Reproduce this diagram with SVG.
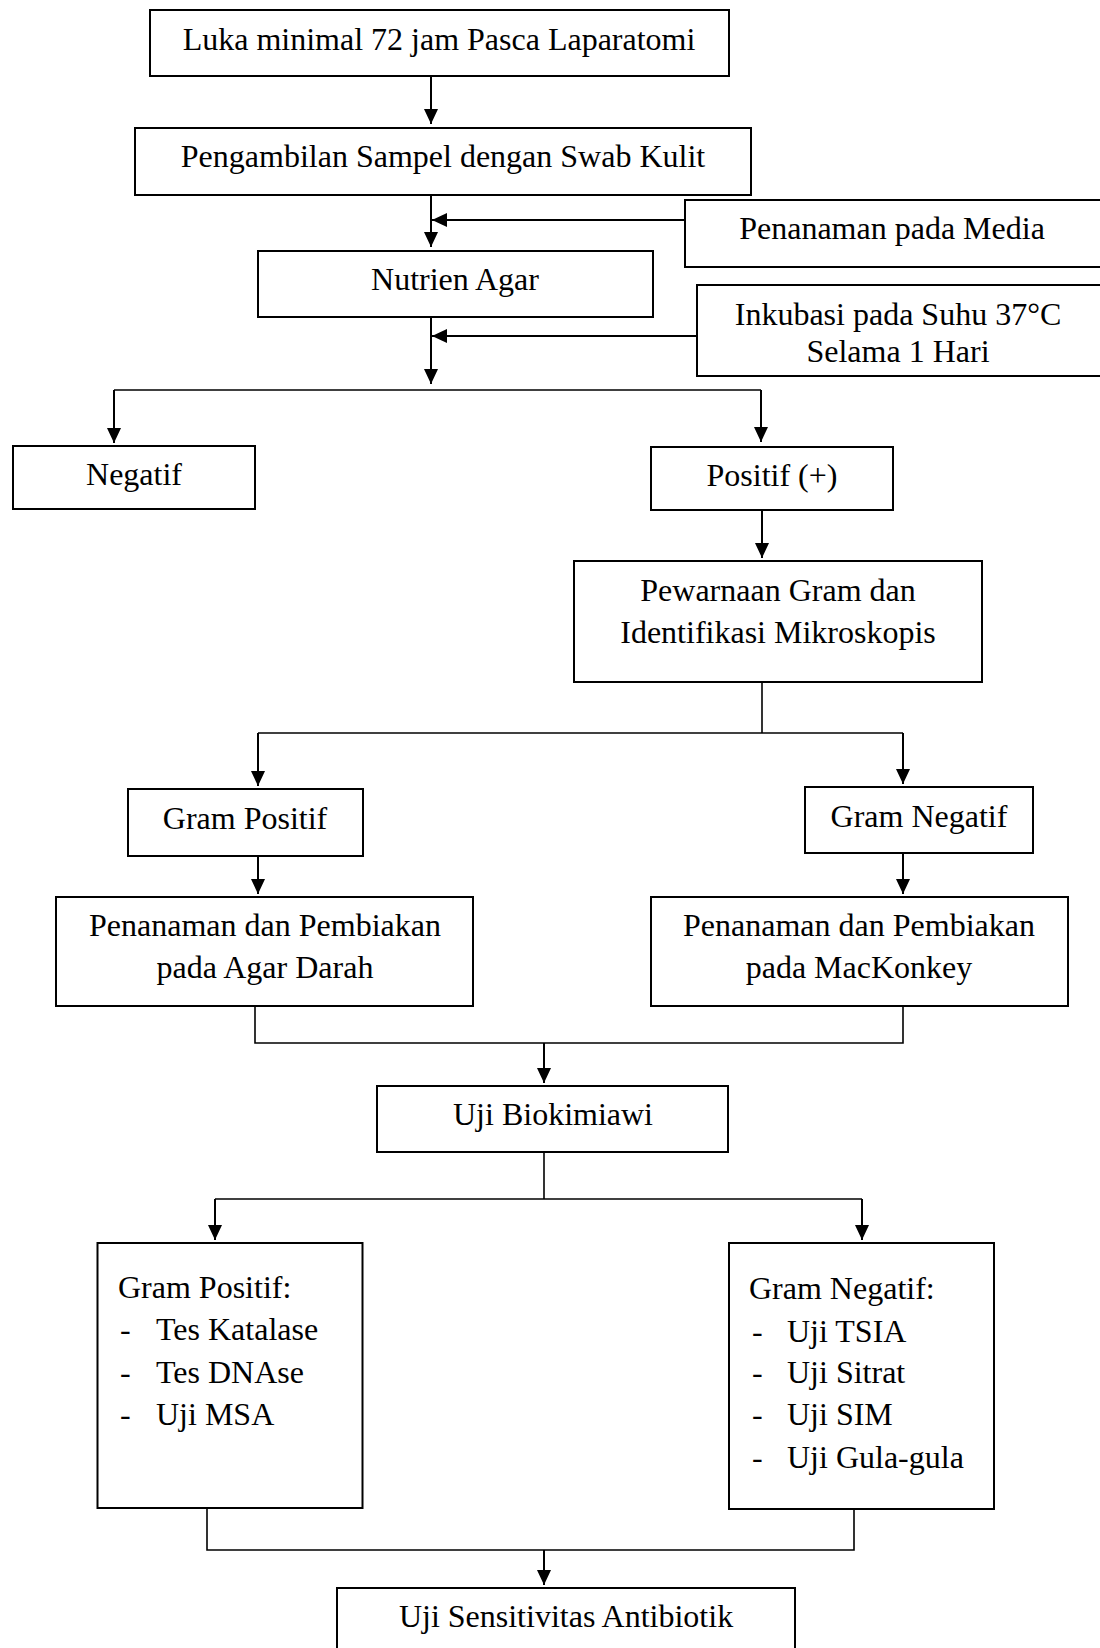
<svg xmlns="http://www.w3.org/2000/svg" width="1100" height="1648" viewBox="0 0 1100 1648">
<defs>
<marker id="ah" viewBox="0 0 15 14" refX="15" refY="7" markerWidth="15" markerHeight="14" markerUnits="userSpaceOnUse" orient="auto">
<path d="M0,0 L15,7 L0,14 z" fill="#000"/>
</marker>
<style>
rect{fill:#fff;stroke:#000;stroke-width:2}
text{font-family:"Liberation Serif","Times New Roman",serif;font-size:32px;fill:#000}
.c{text-anchor:middle}
.a{fill:none;stroke:#000;stroke-width:2;marker-end:url(#ah)}
.l{fill:none;stroke:#000;stroke-width:1.6}
</style>
</defs>
<rect x="0" y="0" width="1100" height="1648" style="fill:#fff;stroke:none"/>
<g id="connectors">
<path class="a" d="M431,76 V124"/>
<path class="a" d="M431,195 V247"/>
<path class="a" d="M685,220 H432"/>
<path class="a" d="M431,315 V384"/>
<path class="a" d="M697,336 H432"/>
<path class="l" d="M114,390 H761"/>
<path class="a" d="M114,390 V443"/>
<path class="a" d="M761,390 V442"/>
<path class="a" d="M762,510 V558"/>
<path class="l" d="M762,682 V733"/>
<path class="l" d="M258,733 H903"/>
<path class="a" d="M258,733 V786"/>
<path class="a" d="M903,733 V784"/>
<path class="a" d="M258,856 V894"/>
<path class="a" d="M903,853 V894"/>
<path class="l" d="M255,1006 V1043 H903 V1006"/>
<path class="a" d="M544,1043 V1083"/>
<path class="l" d="M544,1152 V1199"/>
<path class="l" d="M215,1199 H862"/>
<path class="a" d="M215,1199 V1240"/>
<path class="a" d="M862,1199 V1240"/>
<path class="l" d="M207,1508 V1550 H854 V1509"/>
<path class="a" d="M544,1550 V1585"/>
</g>
<g id="n1"><rect x="150" y="10" width="579" height="66"/><text class="c" x="439" y="50">Luka minimal 72 jam Pasca Laparatomi</text></g>
<g id="n2"><rect x="135" y="128" width="616" height="67"/><text class="c" x="443" y="167">Pengambilan Sampel dengan Swab Kulit</text></g>
<g id="n3"><rect x="685" y="200" width="430" height="67"/><text class="c" x="892" y="239">Penanaman pada Media</text></g>
<g id="n4"><rect x="258" y="251" width="395" height="66"/><text class="c" x="455" y="290">Nutrien Agar</text></g>
<g id="n5"><rect x="697" y="285" width="420" height="91"/><text class="c" x="898" y="325">Inkubasi pada Suhu 37°C</text><text class="c" x="898" y="362">Selama 1 Hari</text></g>
<g id="n6"><rect x="13" y="446" width="242" height="63"/><text class="c" x="134" y="485">Negatif</text></g>
<g id="n7"><rect x="651" y="447" width="242" height="63"/><text class="c" x="772" y="486">Positif (+)</text></g>
<g id="n8"><rect x="574" y="561" width="408" height="121"/><text class="c" x="778" y="601">Pewarnaan Gram dan</text><text class="c" x="778" y="643">Identifikasi Mikroskopis</text></g>
<g id="n9"><rect x="128" y="789" width="235" height="67"/><text class="c" x="245" y="829">Gram Positif</text></g>
<g id="n10"><rect x="805" y="787" width="228" height="66"/><text class="c" x="919" y="827">Gram Negatif</text></g>
<g id="n11"><rect x="56" y="897" width="417" height="109"/><text class="c" x="265" y="936">Penanaman dan Pembiakan</text><text class="c" x="265" y="978">pada Agar Darah</text></g>
<g id="n12"><rect x="651" y="897" width="417" height="109"/><text class="c" x="859" y="936">Penanaman dan Pembiakan</text><text class="c" x="859" y="978">pada MacKonkey</text></g>
<g id="n13"><rect x="377" y="1086" width="351" height="66"/><text class="c" x="553" y="1125">Uji Biokimiawi</text></g>
<g id="n14"><rect x="97.5" y="1243" width="265" height="265"/>
<text x="118" y="1298">Gram Positif:</text>
<text x="120" y="1340">-</text><text x="156" y="1340">Tes Katalase</text>
<text x="120" y="1383">-</text><text x="156" y="1383">Tes DNAse</text>
<text x="120" y="1425">-</text><text x="156" y="1425">Uji MSA</text></g>
<g id="n15"><rect x="729" y="1243" width="265" height="266"/>
<text x="749" y="1299">Gram Negatif:</text>
<text x="752" y="1342">-</text><text x="787" y="1342">Uji TSIA</text>
<text x="752" y="1383">-</text><text x="787" y="1383">Uji Sitrat</text>
<text x="752" y="1425">-</text><text x="787" y="1425">Uji SIM</text>
<text x="752" y="1468">-</text><text x="787" y="1468">Uji Gula-gula</text></g>
<g id="n16"><rect x="337" y="1588" width="458" height="80"/><text class="c" x="566" y="1627">Uji Sensitivitas Antibiotik</text></g>
</svg>
